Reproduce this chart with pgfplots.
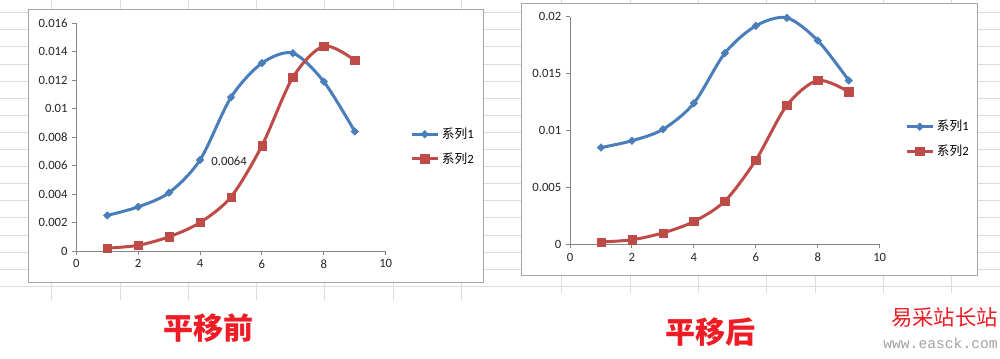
\documentclass[border=0pt]{standalone}
\usepackage{fontspec}
\usepackage{pgfplots}
\pgfplotsset{compat=1.18}
\setmainfont{Carlito}
\newfontfamily\cjk{Noto Sans CJK SC}
\newfontfamily\monof{Liberation Mono}
\definecolor{sA}{HTML}{4A7EBB}
\definecolor{sB}{HTML}{BE4B48}
\definecolor{titlered}{HTML}{EE1C25}
\definecolor{axgray}{HTML}{868686}
\definecolor{gridc}{HTML}{DCDCDC}
\definecolor{framec}{HTML}{A6A6A6}
\definecolor{wmgray}{HTML}{A89E9E}

\pgfplotsset{
  excelstyle/.style={
    scale only axis,
    xmin=0, xmax=10, ymin=0,
    axis x line*=bottom, axis y line*=left,
    axis line style={axgray, line width=0.75pt},
    tick style={axgray, line width=0.75pt},
    tick align=outside, major tick length=3pt,
    xtick={0,2,4,6,8,10},
    ticklabel style={font=\fontsize{9.5}{11}\selectfont, text=black!85},
    /pgf/number format/assume math mode=true,
    yticklabel style={/pgf/number format/fixed, /pgf/number format/precision=3},
    scaled y ticks=false,
    clip=false,
    legend style={draw=none, fill=none, font=\fontsize{9.5}{11}\selectfont,
      row sep=5pt, cells={anchor=west}, inner sep=0pt},
    legend image code/.code={\draw[##1, mark repeat=2, mark phase=2]
      plot coordinates {(0pt,0pt)(9.75pt,0pt)(19.5pt,0pt)};},
  },
  sAstyle/.style={sA, line width=2.25pt, smooth, tension=0.5, mark=square*,
    mark size=2pt, mark options={rotate=45, fill=sA, line width=0.4pt}},
  sBstyle/.style={sB, line width=2.25pt, smooth, tension=0.5, mark=square*,
    mark size=3.1pt, mark options={fill=sB, line width=0.4pt}},
}

\begin{document}
\begin{tikzpicture}
\begin{scope}[x=0.75pt, y=-0.75pt, shift={(0pt,268.5pt)}]
  \path[use as bounding box] (0,0) rectangle (1000,358);
  % spreadsheet grid lines
  \foreach \k in {0,...,16} {
    \draw[gridc, line width=0.75pt] (0,{12.7+17.1*\k}) -- (1000,{12.7+17.1*\k});
  }
  \foreach \k in {0,...,6} {
    \draw[gridc, line width=0.75pt] ({51.7+68.3*\k},0) -- ({51.7+68.3*\k},300);
  }
  \foreach \xx in {561.7,630,698.3,766.7,815,883.3,951.7} {
    \draw[gridc, line width=0.75pt] (\xx,0) -- (\xx,293);
  }
  % chart areas
  \draw[framec, line width=1.1pt, fill=white] (28.3,9.5) rectangle (483.3,282.7);
  \draw[framec, line width=1.1pt, fill=white] (521.7,3.3) rectangle (977.3,275.7);
  % titles
  \node[text=titlered, font=\cjk\bfseries\fontsize{22.5}{24}\selectfont] at (208.3,328.3) {平移前};
  \node[text=titlered, font=\cjk\bfseries\fontsize{22.5}{24}\selectfont] at (710.8,332.5) {平移后};
  % watermark
  \node[text=titlered, font=\cjk\fontsize{16}{18}\selectfont, anchor=east, inner sep=0pt] at (998,317) {易采站长站};
  \node[text=wmgray, font=\monof\fontsize{11}{12}\selectfont, anchor=east, inner sep=0pt] at (998,343) {www.easck.com};
\end{scope}

% left chart: before shift
\begin{axis}[excelstyle,
  at={(57.225pt,80.25pt)}, anchor=south west,
  width=232.05pt, height=170.78pt,
  ymax=0.016,
  ytick={0,0.002,0.004,0.006,0.008,0.01,0.012,0.014,0.016},
  legend style={at={(1.0785,0.4585)}, anchor=west},
]
\addplot[sAstyle] coordinates {
  (1,0.0025) (2,0.0031) (3,0.0041) (4,0.0064) (5,0.0108)
  (6,0.0132) (7,0.0139) (8,0.0119) (9,0.0084)};
\addlegendentry{{\cjk 系列}1}
\addplot[sBstyle] coordinates {
  (1,0.0002) (2,0.0004) (3,0.0010) (4,0.0020) (5,0.0038)
  (6,0.0074) (7,0.0122) (8,0.0144) (9,0.0134)};
\addlegendentry{{\cjk 系列}2}
\node[anchor=west, inner sep=0pt, font=\fontsize{9.5}{11}\selectfont, text=black!85]
  at (axis cs:4.36,0.00627) {0.0064};
\end{axis}

% right chart: after shift (series 1 + 0.006)
\begin{axis}[excelstyle,
  at={(427.5pt,85.275pt)}, anchor=south west,
  width=232.3pt, height=170.7pt,
  ymax=0.02,
  ytick={0,0.005,0.01,0.015,0.02},
  legend style={at={(1.0817,0.4627)}, anchor=west},
]
\addplot[sAstyle] coordinates {
  (1,0.0085) (2,0.0091) (3,0.0101) (4,0.0124) (5,0.0168)
  (6,0.0192) (7,0.0199) (8,0.0179) (9,0.0144)};
\addlegendentry{{\cjk 系列}1}
\addplot[sBstyle] coordinates {
  (1,0.0002) (2,0.0004) (3,0.0010) (4,0.0020) (5,0.0038)
  (6,0.0074) (7,0.0122) (8,0.0144) (9,0.0134)};
\addlegendentry{{\cjk 系列}2}
\end{axis}
\end{tikzpicture}
\end{document}
